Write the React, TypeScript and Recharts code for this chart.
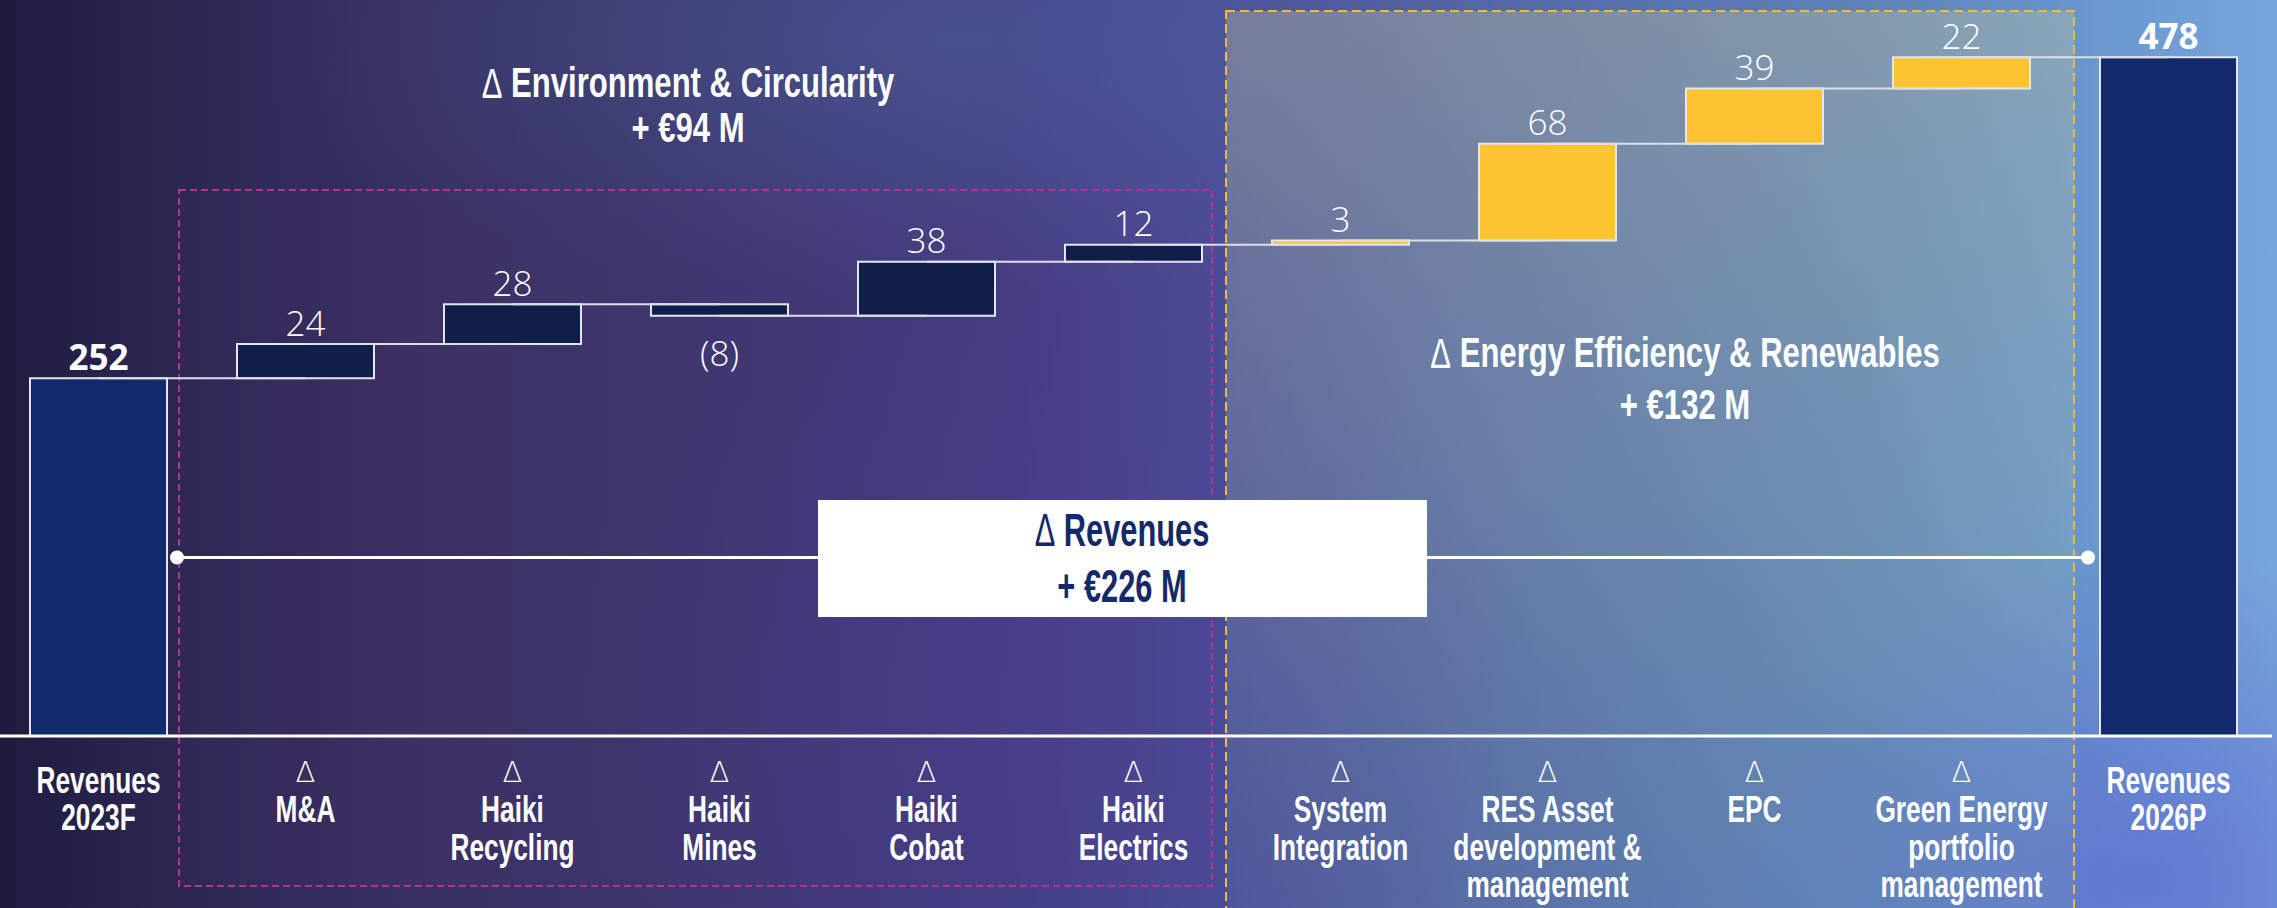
import React from 'react';
import { ComposedChart, Bar, XAxis, YAxis, Cell, LabelList, ReferenceLine } from 'recharts';

// ---------- data ----------
const categories = [
  'Revenues 2023F',
  'M&A',
  'Haiki Recycling',
  'Haiki Mines',
  'Haiki Cobat',
  'Haiki Electrics',
  'System Integration',
  'RES Asset development & management',
  'EPC',
  'Green Energy portfolio management',
  'Revenues 2026P',
];
const tickLines = [
  ['Revenues', '2023F'],
  ['Δ', 'M&A'],
  ['Δ', 'Haiki', 'Recycling'],
  ['Δ', 'Haiki', 'Mines'],
  ['Δ', 'Haiki', 'Cobat'],
  ['Δ', 'Haiki', 'Electrics'],
  ['Δ', 'System', 'Integration'],
  ['Δ', 'RES Asset', 'development &', 'management'],
  ['Δ', 'EPC'],
  ['Δ', 'Green Energy', 'portfolio', 'management'],
  ['Revenues', '2026P'],
];
const values = [252, 24, 28, -8, 38, 12, 3, 68, 39, 22, 478];
const kinds = ['total', 'env', 'env', 'env', 'env', 'env', 'energy', 'energy', 'energy', 'energy', 'total'];
const valueLabels = ['252', '24', '28', '(8)', '38', '12', '3', '68', '39', '22', '478'];

const envTitle = ['Δ Environment & Circularity', '+ €94 M'];
const energyTitle = ['Δ Energy Efficiency & Renewables', '+ €132 M'];
const revTitle = ['Δ Revenues', '+ €226 M'];

// ---------- derived rows ----------
type Row = { name: string; range: [number, number]; end: number; delta: number; kind: string; label: string };
const rows: Row[] = [];
{
  let level = 0;
  categories.forEach((name, i) => {
    const v = values[i];
    if (kinds[i] === 'total') {
      level = v;
      rows.push({ name, range: [0, v], end: v, delta: v, kind: kinds[i], label: valueLabels[i] });
    } else {
      const start = level;
      const end = start + v;
      level = end;
      rows.push({ name, range: [Math.min(start, end), Math.max(start, end)], end, delta: v, kind: kinds[i], label: valueLabels[i] });
    }
  });
}

// ---------- styles ----------
const W = 2277;
const H = 908;
const BOLD = '"Liberation Sans", Arial, sans-serif';
const LIGHT = '"Open Sans", "Noto Sans", sans-serif';
const fillFor = (k: string) => (k === 'total' ? '#12296B' : k === 'env' ? '#101F4A' : '#FDC431');
const EDGE = '#E4E5EE';

// condensed bold text (horizontally squeezed)
const CondText = ({ x, y, sx, fs, fill, text }: { x: number; y: number; sx: number; fs: number; fill: string; text: string }) => {
  const hasDelta = text.startsWith('Δ ');
  return (
    <g transform={`translate(${x},${y}) scale(${sx},1)`}>
      <text x={0} y={0} textAnchor="middle" dominantBaseline="central" fontFamily={BOLD} fontWeight={700} fontSize={fs} fill={fill}>
        {hasDelta ? (
          <>
            <tspan fontWeight={400}>Δ</tspan>
            {text.slice(1)}
          </>
        ) : (
          text
        )}
      </text>
    </g>
  );
};

const renderLabel = (props: any) => {
  const { x, y, width, height, value } = props;
  const r = rows.find((d) => d.label === value);
  if (!r) return null;
  const top = Math.min(Number(y), Number(y) + Number(height));
  const bottom = Math.max(Number(y), Number(y) + Number(height));
  const cx = Number(x) + Number(width) / 2;
  const ly = r.delta < 0 ? bottom + 37 : top - 22;
  return (
    <text
      x={cx}
      y={ly}
      textAnchor="middle"
      dominantBaseline="central"
      fill="#FFFFFF"
      fontFamily={LIGHT}
      fontSize={35}
      fontWeight={r.kind === 'total' ? 700 : 300}
    >
      {value}
    </text>
  );
};

const Tick = (props: any) => {
  const { x, y, payload } = props;
  const i = categories.indexOf(payload.value);
  if (i < 0) return null;
  const lines = tickLines[i];
  const isTotal = kinds[i] === 'total';
  const start = Number(y) + (isTotal ? 36 : 28);
  return (
    <g>
      {lines.map((ln, k) =>
        ln === 'Δ' ? (
          <text
            key={k}
            x={x}
            y={start + k * 37.5}
            textAnchor="middle"
            dominantBaseline="central"
            fill="#FFFFFF"
            fontFamily='"DejaVu Sans", sans-serif'
            fontWeight={300}
            fontSize={29}
          >
            {ln}
          </text>
        ) : (
          <CondText key={k} x={Number(x)} y={start + k * 37.5} sx={0.71} fs={37} fill="#FFFFFF" text={ln} />
        )
      )}
    </g>
  );
};

const bgStyle: React.CSSProperties = {
  position: 'absolute',
  left: 0,
  top: 0,
  width: W,
  height: H,
  background: [
    'radial-gradient(ellipse 420px 330px at 2150px 880px, rgba(92,96,206,0.6), rgba(92,96,206,0) 100%)',
    'radial-gradient(ellipse 700px 260px at 950px 40px, rgba(86,118,170,0.35), rgba(86,118,170,0) 100%)',
    'radial-gradient(ellipse 500px 400px at 1050px 700px, rgba(70,66,150,0.35), rgba(70,66,150,0) 100%)',
    'linear-gradient(90deg, #201B3E 0%, #2A2650 7%, #363060 17%, #3C366E 30%, #423D82 44%, #4A4C96 54%, #5468A6 66%, #5E82B8 82%, #6B9BD2 94%, #77A6DC 100%)',
  ].join(', '),
};

export default function App() {
  return (
    <div style={{ position: 'absolute', left: 0, top: 0, width: W, height: H, overflow: 'hidden' }}>
      <div style={bgStyle} />
      {/* region fills and dashed frames (under the chart) */}
      <svg width={W} height={H} style={{ position: 'absolute', left: 0, top: 0 }}>
        <defs>
          <linearGradient id="yfill" x1="0" y1="0" x2="0" y2="1">
            <stop offset="0%" stopColor="rgb(196,196,156)" stopOpacity={0.36} />
            <stop offset="55%" stopColor="rgb(160,190,170)" stopOpacity={0.25} />
            <stop offset="100%" stopColor="rgb(120,170,170)" stopOpacity={0.12} />
          </linearGradient>
        </defs>
        <rect x={1226} y={11} width={848} height={910} fill="url(#yfill)" />
        <rect x={179} y={190} width={1033} height={696} fill="rgba(120,50,130,0.07)" />
        <rect x={179} y={190} width={1033} height={696} fill="none" stroke="#B3338E" strokeWidth={2} strokeDasharray="7 4" />
        <rect x={1226} y={11} width={848} height={920} fill="none" stroke="#F5BC26" strokeWidth={2} strokeDasharray="9 5" />
      </svg>

      <div style={{ position: 'absolute', left: -5, top: 0 }}>
        <ComposedChart
          width={W}
          height={H}
          data={rows}
          margin={{ top: 26, right: 0, bottom: 22, left: 0 }}
          barCategoryGap="17%"
        >
          <XAxis
            dataKey="name"
            type="category"
            interval={0}
            height={150}
            tickLine={false}
            axisLine={{ stroke: '#FFFFFF', strokeWidth: 3 }}
            tick={<Tick />}
          />
          <YAxis hide domain={[0, 500]} type="number" />
          <Bar dataKey="range" isAnimationActive={false} barSize={137} stroke={EDGE} strokeWidth={2}>
            {rows.map((r, i) => (
              <Cell key={i} fill={fillFor(r.kind)} />
            ))}
            <LabelList dataKey="label" content={renderLabel} />
          </Bar>
          {rows.slice(0, -1).map((r, i) => (
            <ReferenceLine
              key={'c' + i}
              segment={[
                { x: r.name, y: r.end },
                { x: rows[i + 1].name, y: r.end },
              ]}
              stroke="#DCDEE8"
              strokeWidth={2}
            />
          ))}
        </ComposedChart>
      </div>

      {/* annotations on top */}
      <svg width={W} height={H} style={{ position: 'absolute', left: 0, top: 0, pointerEvents: 'none' }}>
        <line x1={177} y1={557.5} x2={2088} y2={557.5} stroke="#FFFFFF" strokeWidth={3} />
        <circle cx={177} cy={557.5} r={7} fill="#FFFFFF" />
        <circle cx={2088} cy={557.5} r={7} fill="#FFFFFF" />
        <rect x={818} y={500} width={609} height={117} fill="#FFFFFF" />
        {revTitle.map((t, k) => (
          <CondText key={k} x={1122} y={530 + k * 56} sx={0.67} fs={46} fill="#13296A" text={t} />
        ))}
        {envTitle.map((t, k) => (
          <CondText key={k} x={688} y={83 + k * 45} sx={0.74} fs={42} fill="#FFFFFF" text={t} />
        ))}
        {energyTitle.map((t, k) => (
          <CondText key={k} x={1685} y={353 + k * 52} sx={0.74} fs={42} fill="#FFFFFF" text={t} />
        ))}
      </svg>
    </div>
  );
}
